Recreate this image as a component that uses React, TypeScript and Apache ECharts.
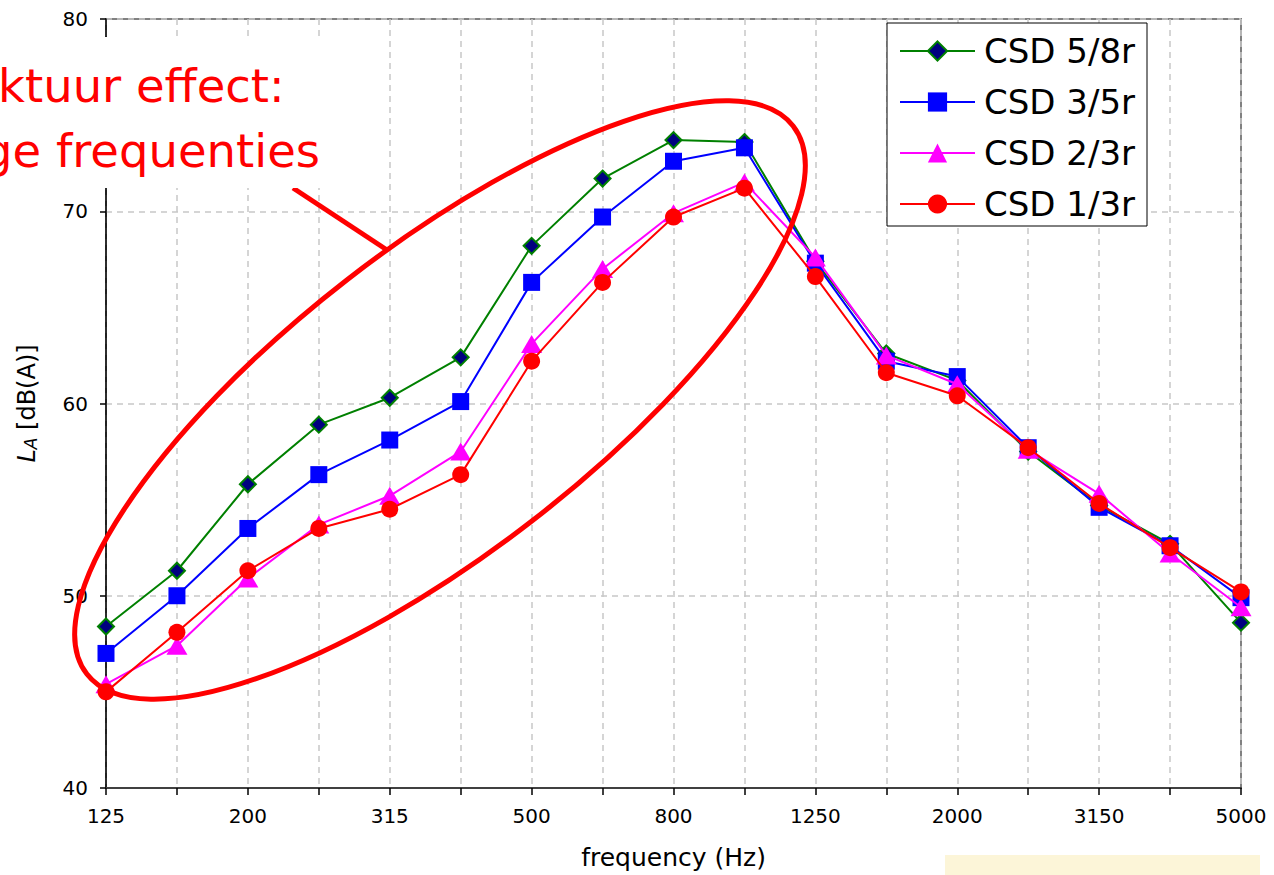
import React, { useEffect, useRef } from "react";
import * as echarts from "echarts";

const categories = ["125", "160", "200", "250", "315", "400", "500", "630", "800", "1000", "1250", "1600", "2000", "2500", "3150", "4000", "5000"];
const seriesNames = ["CSD 5/8r", "CSD 3/5r", "CSD 2/3r", "CSD 1/3r"];
const csd58 = [48.4, 51.3, 55.8, 58.9, 60.3, 62.4, 68.2, 71.7, 73.7, 73.6, 67.4, 62.6, 61.2, 57.5, 54.7, 52.7, 48.6];
const csd35 = [47.0, 50.0, 53.5, 56.3, 58.1, 60.1, 66.3, 69.7, 72.6, 73.3, 67.3, 62.2, 61.4, 57.7, 54.6, 52.6, 49.9];
const csd23 = [45.4, 47.4, 50.9, 53.7, 55.2, 57.5, 63.1, 67.0, 69.9, 71.5, 67.6, 62.5, 61.0, 57.6, 55.3, 52.2, 49.4];
const csd13 = [45.0, 48.1, 51.3, 53.5, 54.5, 56.3, 62.2, 66.3, 69.7, 71.2, 66.6, 61.6, 60.4, 57.7, 54.8, 52.5, 50.2];
const annotationLines = ["ktuur effect:", "ge frequenties"];
const xAxisName = "frequency (Hz)";
const yAxisName = "{i|L}{s|A} [dB(A)]";

const FONT = '"DejaVu Sans", sans-serif';

export default function App() {
  const ref = useRef<HTMLDivElement>(null);

  useEffect(() => {
    if (!ref.current) return;
    const chart = echarts.init(ref.current, null, { renderer: "svg" });
    const dash = [6, 5];
    const option: any = {
      animation: false,
      backgroundColor: "#ffffff",
      textStyle: { fontFamily: FONT },
      grid: {
        left: 106,
        right: 33,
        top: 19,
        bottom: 84,
        show: true,
        borderColor: "#808080",
        borderWidth: 2,
        backgroundColor: "transparent",
      },
      legend: {
        show: true,
        selectedMode: false,
        orient: "vertical",
        left: 887,
        top: 23,
        width: 259,
        padding: [11, 12, 5, 12],
        itemWidth: 75,
        itemHeight: 24,
        itemGap: 17,
        backgroundColor: "#ffffff",
        borderColor: "#000000",
        borderWidth: 1,
        textStyle: {
          fontFamily: FONT,
          fontSize: 34,
          lineHeight: 34,
          color: "#000000",
          padding: [0, 0, 0, 4],
        },
        data: seriesNames,
      },
      xAxis: {
        type: "category",
        data: categories,
        boundaryGap: false,
        name: xAxisName,
        nameLocation: "middle",
        nameGap: 57,
        nameTextStyle: { fontFamily: FONT, fontSize: 25, color: "#000000" },
        axisLine: { show: true, lineStyle: { color: "#404040", width: 2 } },
        axisTick: { show: true, interval: 0, length: 7, lineStyle: { color: "#000000", width: 1.5 } },
        axisLabel: { interval: 1, margin: 18, fontFamily: FONT, fontSize: 20, color: "#000000" },
        splitLine: { show: true, interval: 0, lineStyle: { color: "#c8c8c8", width: 1.5, type: dash } },
      },
      yAxis: {
        type: "value",
        min: 40,
        max: 80,
        interval: 10,
        name: yAxisName,
        nameLocation: "middle",
        nameRotate: 90,
        nameGap: 67,
        nameTextStyle: {
          fontFamily: FONT,
          fontSize: 24,
          color: "#000000",
          rich: {
            i: { fontFamily: FONT, fontSize: 24, fontStyle: "italic", color: "#000000" },
            s: { fontFamily: FONT, fontSize: 17, fontStyle: "italic", color: "#000000", padding: [8, 0, 0, 0] },
          },
        },
        axisLine: { show: true, lineStyle: { color: "#000000", width: 1.5 } },
        axisTick: { show: true, length: 6, lineStyle: { color: "#000000", width: 1.5 } },
        axisLabel: { margin: 18, fontFamily: FONT, fontSize: 20, color: "#000000" },
        splitLine: { show: true, lineStyle: { color: "#c8c8c8", width: 1.5, type: dash } },
      },
      series: [
        {
          name: seriesNames[0],
          type: "line",
          data: csd58,
          symbol: "diamond",
          symbolSize: 16,
          lineStyle: { color: "#008000", width: 2 },
          itemStyle: { color: "#000080", borderColor: "#008000", borderWidth: 2 },
          z: 3,
        },
        {
          name: seriesNames[1],
          type: "line",
          data: csd35,
          symbol: "rect",
          symbolSize: 17,
          lineStyle: { color: "#0000ff", width: 2 },
          itemStyle: { color: "#0000ff" },
          z: 4,
        },
        {
          name: seriesNames[2],
          type: "line",
          data: csd23,
          symbol: "triangle",
          symbolSize: [21, 18],
          lineStyle: { color: "#ff00ff", width: 2 },
          itemStyle: { color: "#ff00ff" },
          z: 5,
        },
        {
          name: seriesNames[3],
          type: "line",
          data: csd13,
          symbol: "circle",
          symbolSize: 17,
          lineStyle: { color: "#ff0000", width: 2 },
          itemStyle: { color: "#ff0000" },
          z: 6,
        },
      ],
      graphic: [
        {
          type: "line",
          z: 95,
          shape: { x1: 293, y1: 188, x2: 387, y2: 250 },
          style: { stroke: "#ff0000", lineWidth: 5 },
        },
        {
          type: "ellipse",
          z: 95,
          x: 440,
          y: 400,
          rotation: (37.8 * Math.PI) / 180,
          shape: { cx: 0, cy: 0, rx: 447, ry: 152 },
          style: { fill: "none", stroke: "#ff0000", lineWidth: 5 },
        },
        {
          type: "rect",
          z: 96,
          shape: { x: 0, y: 37, width: 350, height: 151 },
          style: { fill: "#ffffff" },
        },
        {
          type: "text",
          z: 100,
          x: -2,
          y: 86,
          style: {
            text: annotationLines[0],
            fill: "#ff0000",
            font: '46.5px "DejaVu Sans", sans-serif',
            align: "left",
            verticalAlign: "middle",
          },
        },
        {
          type: "text",
          z: 100,
          x: -17,
          y: 151,
          style: {
            text: annotationLines[1],
            fill: "#ff0000",
            font: '46.5px "DejaVu Sans", sans-serif',
            align: "left",
            verticalAlign: "middle",
          },
        },
        {
          type: "rect",
          z: 100,
          shape: { x: 945, y: 855, width: 315, height: 20 },
          style: { fill: "#fcf5d8" },
        },
      ],
    };
    chart.setOption(option);
    return () => chart.dispose();
  }, []);

  return (
    <div
      ref={ref}
      style={{ position: "absolute", left: 0, top: 0, width: 1274, height: 875 }}
    />
  );
}
